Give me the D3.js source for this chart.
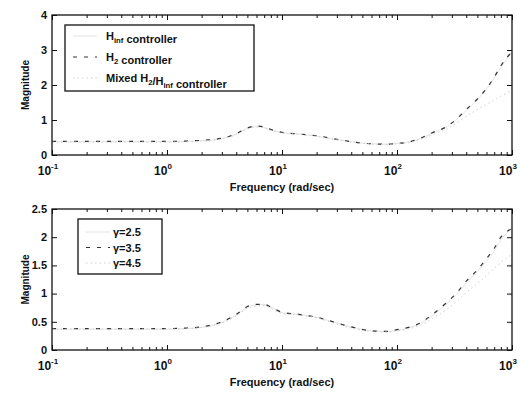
<!DOCTYPE html>
<html>
<meta charset="utf-8">
<style>
  body { margin: 0; background: white; }
  text { font-family: "Liberation Sans", Arial, sans-serif; font-weight: bold; fill: #111; }
</style>
<body>
<script src="https://d3js.org/d3.v7.min.js"></script>
<script>
// frequencies (rad/sec) shared by every curve
const freq = [0.1, 0.2, 0.3, 0.5, 0.7, 1, 1.5, 2, 3, 4, 5, 6, 7, 8, 10, 14, 20, 30, 40, 60, 80, 100, 130, 160, 200, 270, 330, 400, 500, 600, 700, 800, 1000];

// top panel
const hinfMag  = [0.38,0.38,0.38,0.38,0.38,0.38,0.39,0.41,0.47,0.60,0.76,0.82,0.79,0.72,0.64,0.60,0.54,0.44,0.38,0.32,0.31,0.33,0.38,0.47,0.62,0.80,1.02,1.27,1.58,1.88,2.20,2.50,2.95];
const h2Mag    = [0.39,0.39,0.39,0.39,0.39,0.39,0.40,0.42,0.48,0.61,0.77,0.83,0.80,0.73,0.65,0.60,0.55,0.45,0.38,0.32,0.31,0.33,0.38,0.48,0.63,0.81,1.03,1.30,1.60,1.90,2.22,2.55,2.95];
const mixedMag = [0.37,0.37,0.37,0.37,0.37,0.37,0.38,0.40,0.46,0.58,0.74,0.80,0.77,0.70,0.63,0.59,0.53,0.43,0.37,0.31,0.30,0.32,0.36,0.45,0.58,0.74,0.92,1.10,1.30,1.45,1.57,1.68,1.85];
const topLegend = ["H_inf controller", "H_2 controller", "Mixed H_2/H_inf controller"];
const topYTicks = [0, 1, 2, 3, 4];

// bottom panel
const g25Mag = [0.37,0.37,0.37,0.37,0.37,0.37,0.38,0.40,0.49,0.62,0.76,0.80,0.81,0.76,0.66,0.63,0.58,0.48,0.41,0.34,0.33,0.35,0.40,0.47,0.60,0.82,0.99,1.19,1.39,1.58,1.75,1.95,2.15];
const g35Mag = [0.38,0.38,0.38,0.38,0.38,0.38,0.39,0.41,0.50,0.63,0.77,0.81,0.81,0.76,0.67,0.63,0.58,0.48,0.41,0.34,0.33,0.36,0.41,0.48,0.62,0.84,1.01,1.22,1.42,1.62,1.80,2.00,2.15];
const g45Mag = [0.37,0.37,0.37,0.37,0.37,0.37,0.38,0.40,0.48,0.60,0.74,0.78,0.79,0.74,0.65,0.62,0.57,0.46,0.39,0.33,0.32,0.34,0.38,0.44,0.55,0.72,0.86,1.02,1.18,1.32,1.45,1.55,1.70];
const botLegend = ["\u03b3=2.5", "\u03b3=3.5", "\u03b3=4.5"];
const botYTicks = [0, 0.5, 1, 1.5, 2, 2.5];

const xTickExps = [-1, 0, 1, 2, 3];
const xLabel = "Frequency (rad/sec)";
const yLabel = "Magnitude";

// line styles: solid / dashed / dotted, faded like the scan
const styles = [
  {stroke: "#e4e4e4", dash: null, w: 1},
  {stroke: "#333", dash: "4,7", w: 1.2},
  {stroke: "#cfcfcf", dash: "1.5,3", w: 1}
];

const svg = d3.select("body").append("svg").attr("width", 521).attr("height", 394);
svg.append("rect").attr("width", 521).attr("height", 394).attr("fill", "white");

// write "H_2" style strings with subscripts
function richText(sel, str, size) {
  const parts = str.split(/(_inf|_2)/);
  parts.forEach(p => {
    if (p === "_inf" || p === "_2") {
      sel.append("tspan").attr("font-size", size * 0.7).attr("dy", 3).text(p.slice(1));
      sel.append("tspan").attr("dy", -3).text("");
    } else if (p.length) {
      sel.append("tspan").text(p);
    }
  });
}

function panel(cfg) {
  const x = d3.scaleLog().domain([0.1, 1000]).range([52, 512]);
  const y = d3.scaleLinear().domain([0, cfg.yMax]).range([cfg.bottom, cfg.top]);
  const g = svg.append("g");

  // curves
  cfg.series.forEach((s, i) => {
    const line = d3.line().x((d, j) => x(freq[j])).y(d => y(d)).curve(d3.curveMonotoneX);
    g.append("path").attr("d", line(s)).attr("fill", "none")
      .attr("stroke", styles[i].stroke).attr("stroke-width", styles[i].w)
      .attr("stroke-dasharray", styles[i].dash);
  });

  // box
  g.append("rect").attr("x", 52).attr("y", cfg.top).attr("width", 460).attr("height", cfg.bottom - cfg.top)
    .attr("fill", "none").attr("stroke", "#111").attr("stroke-width", 1.3);

  // x ticks (major + minor, inward on bottom and top)
  const minor = [];
  for (let e = -1; e < 3; e++) for (let k = 2; k <= 9; k++) minor.push(k * Math.pow(10, e));
  const xb = d3.axisBottom(x).tickValues(xTickExps.map(e => Math.pow(10, e))).tickSize(-5).tickFormat("");
  const xbm = d3.axisBottom(x).tickValues(minor).tickSize(-3).tickFormat("");
  const xt = d3.axisTop(x).tickValues(xTickExps.map(e => Math.pow(10, e))).tickSize(-5).tickFormat("");
  const xtm = d3.axisTop(x).tickValues(minor).tickSize(-3).tickFormat("");
  [[xb, cfg.bottom], [xbm, cfg.bottom], [xt, cfg.top], [xtm, cfg.top]].forEach(([ax, yy]) => {
    const a = g.append("g").attr("transform", `translate(0,${yy})`).call(ax);
    a.select(".domain").remove();
    a.selectAll("line").attr("stroke", "#111");
  });
  // y ticks inward on both sides
  const yl = d3.axisLeft(y).tickValues(cfg.yTicks).tickSize(-5).tickFormat("");
  const yr = d3.axisRight(y).tickValues(cfg.yTicks).tickSize(-5).tickFormat("");
  [[yl, 52], [yr, 512]].forEach(([ax, xx]) => {
    const a = g.append("g").attr("transform", `translate(${xx},0)`).call(ax);
    a.select(".domain").remove();
    a.selectAll("line").attr("stroke", "#111");
  });

  // y tick labels
  cfg.yTicks.forEach(v => {
    g.append("text").attr("x", 47).attr("y", y(v)).attr("dy", "0.35em")
      .attr("text-anchor", "end").attr("font-size", 11).text(v);
  });
  // x tick labels 10^e
  xTickExps.forEach(e => {
    const t = g.append("text").attr("x", x(Math.pow(10, e)) - 4).attr("y", cfg.bottom + 20)
      .attr("text-anchor", "middle").attr("font-size", 12);
    t.append("tspan").text("10");
    t.append("tspan").attr("font-size", 8).attr("dy", -6).text(e);
  });
  // axis titles
  g.append("text").attr("x", 282).attr("y", cfg.bottom + 36).attr("text-anchor", "middle")
    .attr("font-size", 11).text(xLabel);
  g.append("text").attr("transform", `translate(29,${(cfg.top + cfg.bottom) / 2}) rotate(-90)`)
    .attr("text-anchor", "middle").attr("font-size", 10).text(yLabel);

  // legend
  const L = cfg.legend;
  g.append("rect").attr("x", L.x).attr("y", L.y).attr("width", L.w).attr("height", L.h)
    .attr("fill", "white").attr("stroke", "#111").attr("stroke-width", 1.3);
  cfg.labels.forEach((lab, i) => {
    const cy = L.y + L.row0 + i * L.step;
    g.append("line").attr("x1", L.x + 8).attr("x2", L.x + 32).attr("y1", cy).attr("y2", cy)
      .attr("stroke", styles[i].stroke).attr("stroke-width", styles[i].w)
      .attr("stroke-dasharray", styles[i].dash);
    const t = g.append("text").attr("x", L.tx).attr("y", cy + 4).attr("font-size", 11);
    richText(t, lab, 11);
  });
}

panel({
  top: 15, bottom: 155, yMax: 4, yTicks: topYTicks,
  series: [hinfMag, h2Mag, mixedMag], labels: topLegend,
  legend: {x: 65, y: 25, w: 189, h: 66, row0: 11, step: 21, tx: 106}
});
panel({
  top: 209, bottom: 350, yMax: 2.5, yTicks: botYTicks,
  series: [g25Mag, g35Mag, g45Mag], labels: botLegend,
  legend: {x: 78, y: 219, w: 84, h: 55, row0: 13, step: 15.5, tx: 113}
});
</script>
</body>
</html>
